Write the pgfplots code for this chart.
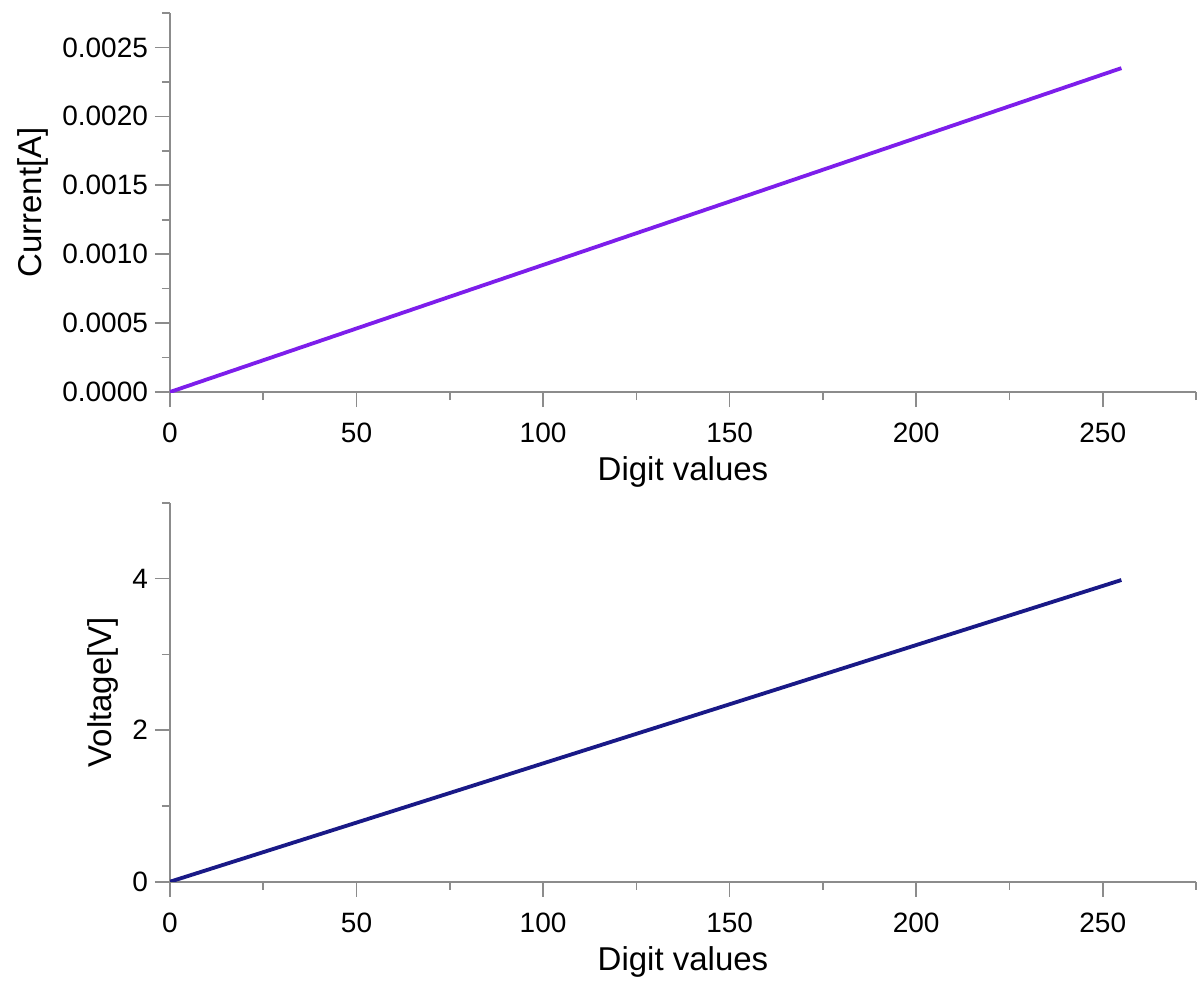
\documentclass[border=0pt]{standalone}
\usepackage{pgfplots}
\pgfplotsset{compat=1.18}
\usepackage{fontspec}
\setmainfont{Liberation Sans}

\definecolor{curline}{RGB}{125,30,235}
\definecolor{voltline}{RGB}{25,25,135}
\definecolor{axisgray}{RGB}{140,140,140}

\pgfplotsset{
  dacstyle/.style={
    scale only axis,
    width=513pt, height=189.5pt,
    axis lines=left,
    axis line style={-, axisgray, line width=0.8pt},
    tick style={axisgray, line width=0.8pt},
    tick align=outside,
    major tick length=7.5pt,
    minor tick length=4pt,
    xmin=0, xmax=275,
    xtick={0,50,...,250},
    minor xtick={25,75,...,275},
    ticklabel style={font=\fontsize{14}{16}\selectfont},
    xticklabel style={yshift=-4.5pt},
    label style={font=\fontsize{16.5}{19}\selectfont},
    /pgf/number format/assume math mode=true,
    xlabel={Digit values},
    anchor=south west,
  }
}

\begin{document}
\begin{tikzpicture}
\useasboundingbox (-85pt,-301.5pt) rectangle (516pt,196pt);

% current vs digit value
\begin{axis}[dacstyle, at={(0,0)},
    ymin=0, ymax=0.00275,
    ytick={0,0.0005,...,0.0025},
    minor ytick={0.00025,0.00075,...,0.00275},
    scaled y ticks=false,
    yticklabel style={/pgf/number format/.cd, fixed, fixed zerofill, precision=4},
    ylabel={Current[A]}]
  \addplot[curline, line width=1.9pt] coordinates {
    (0,0) (50,0.000461) (100,0.000922) (150,0.001382) (200,0.001843) (255,0.00235)
  };
\end{axis}

% voltage vs digit value
\begin{axis}[dacstyle, at={(0,-244.85pt)},
    ymin=0, ymax=5,
    ytick={0,2,4},
    minor ytick={1,3,5},
    ylabel={Voltage[V]}]
  \addplot[voltline, line width=1.9pt] coordinates {
    (0,0) (50,0.780) (100,1.561) (150,2.341) (200,3.122) (255,3.98)
  };
\end{axis}
\end{tikzpicture}
\end{document}
